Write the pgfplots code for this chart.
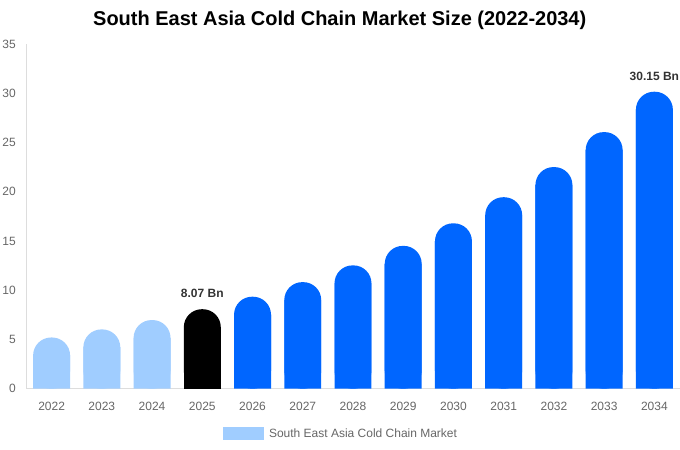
\documentclass[border=0pt]{standalone}
\usepackage{fontspec}
\setmainfont{Liberation Sans}
\usepackage{pgfplots}
\usepackage{pgfplotstable}
\pgfplotsset{compat=1.18}

\definecolor{lightbar}{HTML}{A0CDFF}
\definecolor{bluebar}{HTML}{0066FF}
\definecolor{axisgray}{HTML}{DDDDDD}
\definecolor{ticktext}{HTML}{666666}
\definecolor{labeltext}{HTML}{333333}

% market size, Bn (x = 0 is 2022)
\pgfplotstableread{
x val lab
0 5.20 {}
1 6.02 {}
2 6.97 {}
}\histdata
\pgfplotstableread{
x val lab
3 8.07 {8.07 Bn}
}\basedata
\pgfplotstableread{
x val lab
4 9.34 {}
5 10.82 {}
6 12.52 {}
7 14.50 {}
8 16.79 {}
9 19.44 {}
10 22.50 {}
11 26.05 {}
12 30.15 {30.15 Bn}
}\forecastdata

\pgfplotsset{
  roundbar/.style={ybar, bar width=37bp, bar shift=0pt, draw=none,
    fill=#1, rounded corners=18bp, forget plot},
  squarebar/.style={ybar, bar width=37bp, bar shift=0pt, draw=none,
    fill=#1, forget plot},
  barlabels/.style={nodes near coords, point meta=explicit symbolic,
    nodes near coords style={font=\bfseries\fontsize{12bp}{14bp}\selectfont,
      text=labeltext, inner sep=0pt, anchor=south, yshift=11bp}},
}

\begin{document}
\begin{tikzpicture}[x=1bp,y=1bp]
\path (0,0) rectangle (680,450);
\node[font=\bfseries\fontsize{20bp}{24bp}\selectfont] at (340,430)
  {South East Asia Cold Chain Market Size (2022-2034)};
\begin{axis}[
    at={(27bp,61bp)}, anchor=south west,
    scale only axis, width=653bp, height=345bp,
    xmin=-0.49, xmax=12.5, ymin=0, ymax=35,
    axis x line*=bottom, axis y line*=left,
    axis line style={-, draw=axisgray, line width=1bp},
    xtick={0,...,12},
    xticklabels={2022,2023,2024,2025,2026,2027,2028,2029,2030,2031,2032,2033,2034},
    ytick={0,5,...,35},
    major tick length=0pt,
    /pgf/number format/assume math mode=true,
    tick label style={font=\fontsize{12bp}{14bp}\selectfont, text=ticktext},
    yticklabel style={inner sep=0pt, xshift=-11bp},
    xticklabel style={inner sep=0pt, yshift=-13bp},
    legend style={at={(0.481,-0.1304)}, anchor=center, draw=none, fill=none,
      font=\fontsize{12bp}{14bp}\selectfont, text=ticktext,
      /tikz/every odd column/.append style={column sep=4bp}},
    legend cell align=left,
  ]
  \addlegendimage{legend image code/.code={\fill[lightbar] (0bp,-6bp) rectangle (40bp,6bp);}}
  \addlegendentry{South East Asia Cold Chain Market}

  \addplot[roundbar=lightbar] table[x=x, y=val] {\histdata};
  \addplot[squarebar=lightbar] table[x=x, y expr=\thisrow{val}-1.8] {\histdata};

  \addplot[roundbar=black, barlabels] table[x=x, y=val, meta=lab] {\basedata};
  \addplot[squarebar=black] table[x=x, y expr=\thisrow{val}-1.8] {\basedata};

  \addplot[roundbar=bluebar, barlabels] table[x=x, y=val, meta=lab] {\forecastdata};
  \addplot[squarebar=bluebar] table[x=x, y expr=\thisrow{val}-1.8] {\forecastdata};
\end{axis}
\end{tikzpicture}
\end{document}
